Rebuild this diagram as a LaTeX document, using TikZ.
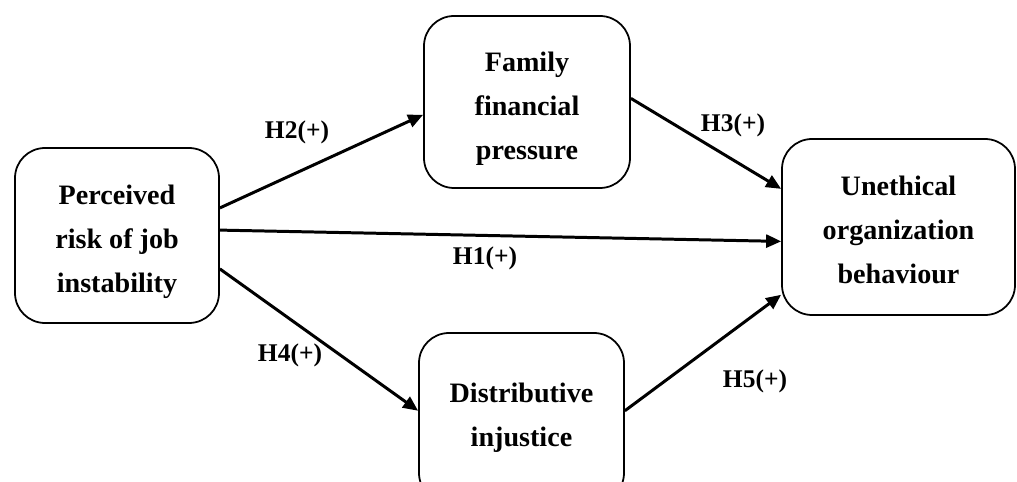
\documentclass[tikz,border=0pt]{standalone}
\usepackage{fontspec}
\setmainfont{Liberation Serif}
\usetikzlibrary{arrows.meta}

\begin{document}
\begin{tikzpicture}[-{Triangle[length=0.3cm,width=0.26cm]},line width=1.7pt,
  main node/.style={draw,line width=1pt,rounded corners=0.6cm,align=center,
    font=\fontsize{16}{25}\selectfont\bfseries},
  hyp label/.style={font=\fontsize{14.5}{16}\selectfont\bfseries}]
\useasboundingbox (0,0) rectangle (20.34,9.64);
\node[main node, minimum width=4.08cm, minimum height=3.5cm] (risk) at (2.34,4.93) {\rule{0pt}{0.63cm}Perceived\\risk of job\\instability};
\node[main node, minimum width=4.12cm, minimum height=3.44cm] (fam) at (10.54,7.60) {\rule{0pt}{0.67cm}Family\\financial\\pressure};
\node[main node, minimum width=4.1cm, minimum height=3.4cm] (dist) at (10.43,1.28) {Distributive\\injustice};
\node[main node, minimum width=4.66cm, minimum height=3.52cm] (ueb) at (17.97,5.10) {\rule{0pt}{0.51cm}Unethical\\organization\\behaviour};

\node[hyp label] (h2) at (5.94,7.00) {H2(+)};
\node[hyp label] (h3) at (14.66,7.14) {H3(+)};
\node[hyp label] (h1) at (9.70,4.48) {H1(+)};
\node[hyp label] (h4) at (5.80,2.54) {H4(+)};
\node[hyp label] (h5) at (15.10,2.02) {H5(+)};

\path
(risk.15) edge (fam.187)
(risk.3) edge (ueb.187)
(risk.-18) edge (dist.176)
(fam.2) edge (ueb.162)
(dist.4) edge (ueb.210);
\end{tikzpicture}
\end{document}
